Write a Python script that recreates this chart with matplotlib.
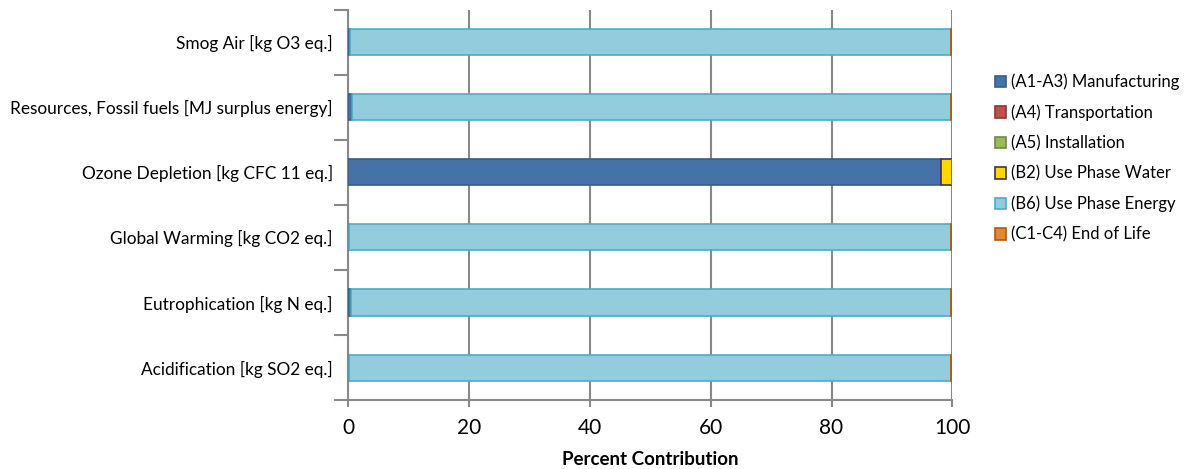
import matplotlib.pyplot as plt
import numpy as np

plt.rcParams['font.family'] = ['Lato', 'DejaVu Sans']

categories = [
    "Acidification [kg SO2 eq.]",
    "Eutrophication [kg N eq.]",
    "Global Warming [kg CO2 eq.]",
    "Ozone Depletion [kg CFC 11 eq.]",
    "Resources, Fossil fuels [MJ surplus energy]",
    "Smog Air [kg O3 eq.]",
]
stages = [
    "(A1-A3) Manufacturing",
    "(A4) Transportation",
    "(A5) Installation",
    "(B2) Use Phase Water",
    "(B6) Use Phase Energy",
    "(C1-C4) End of Life",
]

# percent contribution per stage, in the same order as categories
manufacturing = [0.2, 0.5, 0.2, 98.1, 0.7, 0.3]
transportation = [0.0, 0.0, 0.0, 0.0, 0.0, 0.0]
installation = [0.0, 0.0, 0.0, 0.0, 0.0, 0.0]
use_water = [0.0, 0.0, 0.0, 1.85, 0.0, 0.0]
use_energy = [99.5, 99.2, 99.5, 0.0, 99.0, 99.4]
end_of_life = [0.3, 0.3, 0.3, 0.05, 0.3, 0.3]

series = [manufacturing, transportation, installation, use_water, use_energy, end_of_life]
faces = ["#4572A7", "#C0504D", "#9BBB59", "#FFD700", "#93CDDD", "#E0883A"]
edges = ["#385D8A", "#8C3836", "#71893F", "#403152", "#4BACC6", "#B65708"]

fig = plt.figure(figsize=(11.92, 4.69), dpi=100)
ax = fig.add_axes([0.292, 0.147, 0.507, 0.832])

y = np.arange(len(categories))
left = np.zeros(len(categories))
for vals, name, fc, ec in zip(series, stages, faces, edges):
    vals = np.array(vals)
    ax.barh(y, vals, left=left, height=0.4, color=fc, edgecolor=ec,
            linewidth=1.2, label=name, zorder=3)
    left += vals

ax.set_xlim(0, 100)
ax.set_ylim(-0.5, len(categories) - 0.5)
ax.set_xticks([0, 20, 40, 60, 80, 100])
ax.tick_params(axis='x', labelsize=15, length=5, width=1.5, color='#898989', pad=8)
ax.set_yticks(y)
ax.set_yticklabels(categories, fontsize=12.4)
ax.set_yticks(np.arange(-0.5, len(categories), 1), minor=True)
ax.tick_params(axis='y', which='major', length=0, pad=11)
ax.tick_params(axis='y', which='minor', length=10, width=1.5, color='#898989')
ax.grid(axis='x', color='#898989', linewidth=1.5, zorder=0)
for s in ['top', 'right']:
    ax.spines[s].set_visible(False)
for s in ['left', 'bottom']:
    ax.spines[s].set_color('#898989')
    ax.spines[s].set_linewidth(1.5)

ax.set_xlabel("Percent Contribution", fontsize=13.5, fontweight='bold', labelpad=9)

ax.legend(loc='center left', bbox_to_anchor=(1.045, 0.62), frameon=False,
          fontsize=12, handlelength=0.7, handleheight=0.7, handletextpad=0.3,
          labelspacing=0.85)

fig.savefig("out.png", dpi=100)
